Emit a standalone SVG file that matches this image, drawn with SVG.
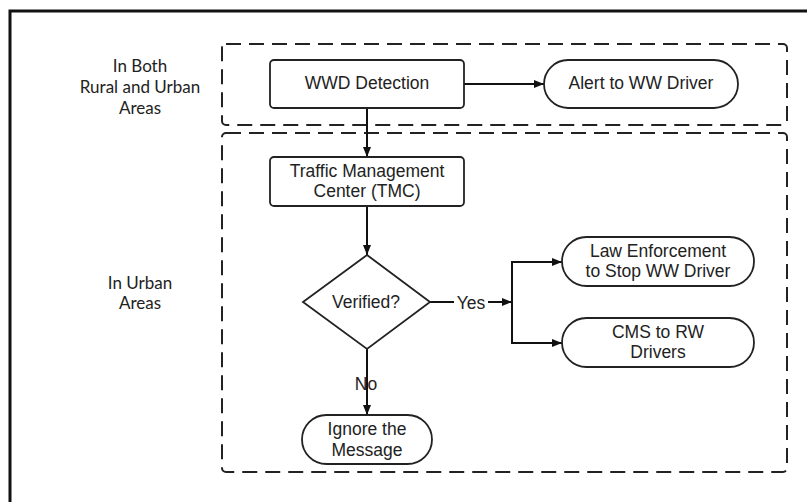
<svg xmlns="http://www.w3.org/2000/svg" width="807" height="502" viewBox="0 0 807 502">
<defs>
<style>
.frame{fill:none;stroke:#111;stroke-width:3}
.zone{fill:none;stroke:#222;stroke-width:2;stroke-dasharray:15 8}
.node{fill:#fff;stroke:#222;stroke-width:1.8}
.conn{fill:none;stroke:#111;stroke-width:2}
.t{font-family:"Liberation Sans",Arial,sans-serif;font-size:17.5px;fill:#222;text-anchor:middle;dominant-baseline:central}
.lab{font-family:Lato,"Open Sans",sans-serif;font-size:17px;fill:#222;text-anchor:middle;dominant-baseline:central}
</style>
<marker id="ah" viewBox="0 0 10 8" refX="10" refY="4" markerWidth="10" markerHeight="8" markerUnits="userSpaceOnUse" orient="auto">
<path d="M0,0 L10,4 L0,8 Z" fill="#111"/>
</marker>
</defs>
<rect width="807" height="502" fill="#fff"/>
<path class="frame" d="M10,503 V11 H808"/>

<g id="zone-both">
<rect class="zone" x="222" y="44" width="565" height="81" rx="4"/>
<text class="lab" x="140" y="65">In Both</text>
<text class="lab" x="140" y="86">Rural and Urban</text>
<text class="lab" x="140" y="107">Areas</text>
</g>
<g id="zone-urban">
<rect class="zone" x="222" y="133" width="565" height="339" rx="4"/>
<text class="lab" x="140" y="282">In Urban</text>
<text class="lab" x="140" y="302">Areas</text>
</g>

<g id="connectors">
<line class="conn" x1="464" y1="84" x2="544" y2="84" marker-end="url(#ah)"/>
<line class="conn" x1="367" y1="108" x2="367" y2="157" marker-end="url(#ah)"/>
<line class="conn" x1="367" y1="206" x2="367" y2="255" marker-end="url(#ah)"/>
<line class="conn" x1="367" y1="349" x2="367" y2="415" marker-end="url(#ah)"/>
<line class="conn" x1="430" y1="302" x2="512" y2="302" marker-end="url(#ah)"/>
<line class="conn" x1="512" y1="262" x2="512" y2="343"/>
<line class="conn" x1="511" y1="262" x2="562" y2="262" marker-end="url(#ah)"/>
<line class="conn" x1="511" y1="343" x2="562" y2="343" marker-end="url(#ah)"/>
<rect x="454" y="292" width="34" height="20" fill="#fff"/>
<text class="t" x="471" y="303">Yes</text>
<text class="t" x="366" y="384">No</text>
</g>

<g id="wwd-detection">
<rect class="node" x="270" y="60" width="194" height="48" rx="4"/>
<text class="t" x="367" y="83">WWD Detection</text>
</g>
<g id="alert">
<rect class="node" x="544" y="60" width="194" height="48" rx="24"/>
<text class="t" x="641" y="83">Alert to WW Driver</text>
</g>
<g id="tmc">
<rect class="node" x="270" y="157" width="194" height="49" rx="4"/>
<text class="t" x="367" y="171">Traffic Management</text>
<text class="t" x="367" y="191">Center (TMC)</text>
</g>
<g id="verified">
<polygon class="node" points="367,255 430,302 367,349 303,302"/>
<text class="t" x="366" y="302">Verified?</text>
</g>
<g id="ignore">
<rect class="node" x="302" y="415" width="130" height="49" rx="24.5"/>
<text class="t" x="367" y="429">Ignore the</text>
<text class="t" x="367" y="450">Message</text>
</g>
<g id="law">
<rect class="node" x="562" y="237" width="192" height="49" rx="24.5"/>
<text class="t" x="658" y="251">Law Enforcement</text>
<text class="t" x="658" y="271">to Stop WW Driver</text>
</g>
<g id="cms">
<rect class="node" x="562" y="318" width="192" height="49" rx="24.5"/>
<text class="t" x="658" y="332">CMS to RW</text>
<text class="t" x="658" y="352">Drivers</text>
</g>
</svg>
